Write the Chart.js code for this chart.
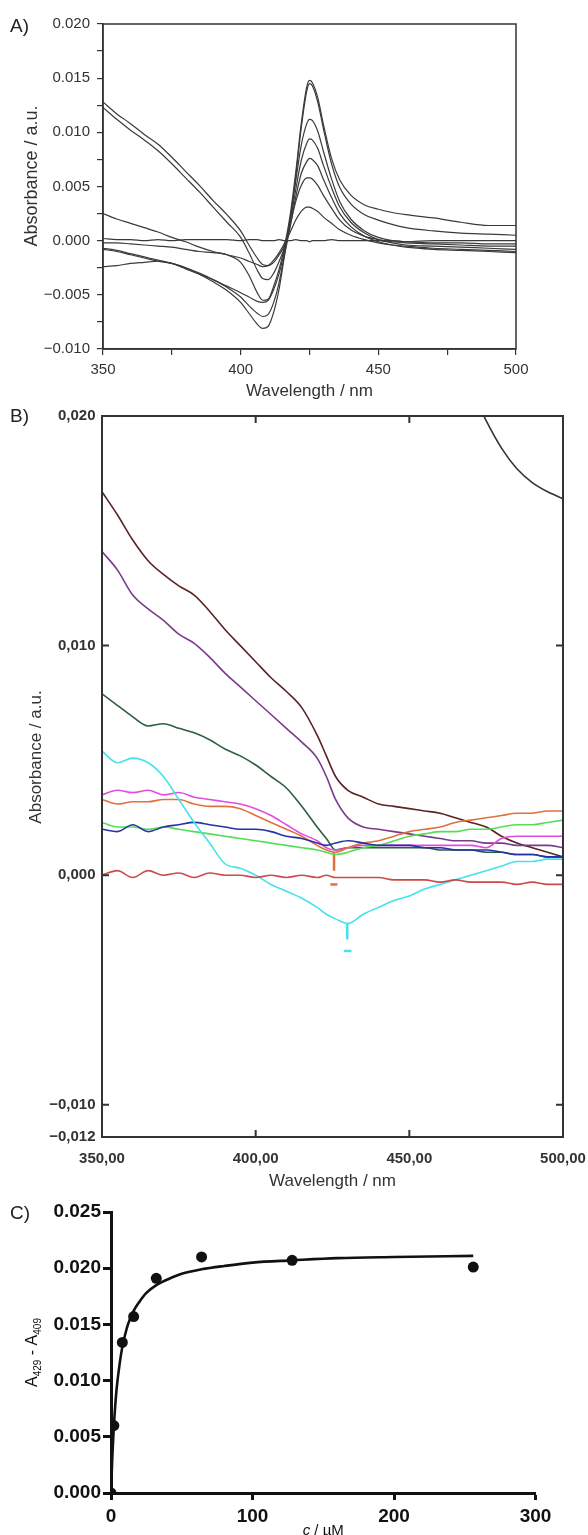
<!DOCTYPE html>
<html>
<head>
<meta charset="utf-8">
<script src="https://cdn.jsdelivr.net/npm/chart.js@4.4.1/dist/chart.umd.min.js"></script>
<style>
  body { margin: 0; background: #fff; }
  #page { position: relative; width: 588px; height: 1535px; overflow: hidden; font-family: "Liberation Sans", Arial, sans-serif; }
  canvas { position: absolute; left: 0; }
  .tag { position: absolute; left: 10px; font-size: 19px; line-height: 1; color: #222; }
</style>
</head>
<body>
<div id="page">
  <canvas id="chartA" width="588" height="410" style="top:0"></canvas>
  <canvas id="chartB" width="588" height="800" style="top:400px"></canvas>
  <canvas id="chartC" width="588" height="340" style="top:1195px"></canvas>
  <div class="tag" style="top:16px">A)</div>
  <div class="tag" style="top:406px">B)</div>
  <div class="tag" style="top:1203px">C)</div>
</div>
<script>
// ---- panel A: difference spectra (nm / a.u.) ----
const wlA = [350,355,360,365,370,375,380,385,390,395,400,403,406,408,410,412,414,416,418,420,422,424,425,426,428,430,433,436,440,445,450,455,460,470,480,490,500];
const aBase = [0.0002,0.0001,0.0001,0.0000,0.0001,0.0000,0.0001,0.0001,0.0001,0.0001,0.0000,0.0001,0.0001,0.0000,0.0000,0.0000,0.0001,0.0000,0.0000,0.0001,0.0000,0.0000,-0.0001,0.0000,0.0000,0.0000,0.0001,0.0000,0.0000,0.0000,0.0000,0.0000,-0.0001,0.0000,0.0000,0.0000,0.0000];
const aHi1 = [0.0128,0.0117,0.0108,0.0098,0.0089,0.0077,0.0064,0.0051,0.0037,0.0024,0.0009,-0.0004,-0.0016,-0.0022,-0.0023,-0.0020,-0.0013,-0.0003,0.0024,0.0063,0.0108,0.0142,0.0148,0.0146,0.0132,0.0108,0.0076,0.0056,0.0042,0.0033,0.0029,0.0026,0.0024,0.0021,0.0017,0.0014,0.0014];
const aHi2 = [0.0123,0.0112,0.0102,0.0093,0.0083,0.0071,0.0058,0.0045,0.0031,0.0017,0.0003,-0.0011,-0.0027,-0.0035,-0.0036,-0.0030,-0.0019,-0.0005,0.0020,0.0059,0.0104,0.0138,0.0145,0.0143,0.0128,0.0104,0.0071,0.0049,0.0034,0.0024,0.0019,0.0015,0.0012,0.0009,0.0007,0.0006,0.0005];
const aMid = [0.0025,0.0020,0.0016,0.0012,0.0008,0.0003,-0.0001,-0.0006,-0.0010,-0.0013,-0.0016,-0.0019,-0.0022,-0.0024,-0.0023,-0.0018,-0.0011,-0.0002,0.0008,0.0019,0.0027,0.0031,0.0031,0.0030,0.0027,0.0022,0.0016,0.0010,0.0005,0.0001,-0.0002,-0.0004,-0.0005,-0.0007,-0.0008,-0.0009,-0.0010];
const aLow = [-0.0002,-0.0002,-0.0003,-0.0004,-0.0005,-0.0006,-0.0008,-0.0010,-0.0011,-0.0013,-0.0020,-0.0032,-0.0048,-0.0055,-0.0054,-0.0042,-0.0026,-0.0006,0.0015,0.0036,0.0051,0.0058,0.0058,0.0057,0.0051,0.0042,0.0030,0.0019,0.0010,0.0004,0.0001,-0.0001,-0.0002,-0.0003,-0.0004,-0.0005,-0.0005];
const aB1 = [-0.0007,-0.0009,-0.0012,-0.0015,-0.0018,-0.0021,-0.0026,-0.0031,-0.0036,-0.0042,-0.0048,-0.0052,-0.0056,-0.0057,-0.0055,-0.0045,-0.0030,-0.0008,0.0020,0.0055,0.0088,0.0108,0.0112,0.0111,0.0101,0.0083,0.0057,0.0036,0.0020,0.0009,0.0003,0.0000,-0.0001,-0.0002,-0.0002,-0.0003,-0.0003];
const aB2 = [-0.0008,-0.0010,-0.0013,-0.0016,-0.0019,-0.0021,-0.0025,-0.0030,-0.0036,-0.0043,-0.0052,-0.0060,-0.0067,-0.0070,-0.0068,-0.0057,-0.0038,-0.0011,0.0017,0.0047,0.0074,0.0090,0.0094,0.0093,0.0085,0.0070,0.0049,0.0031,0.0017,0.0007,0.0001,-0.0002,-0.0004,-0.0005,-0.0006,-0.0007,-0.0008];
const aDeep = [-0.0024,-0.0023,-0.0021,-0.0020,-0.0019,-0.0021,-0.0025,-0.0031,-0.0038,-0.0046,-0.0057,-0.0067,-0.0077,-0.0081,-0.0079,-0.0066,-0.0044,-0.0013,0.0013,0.0040,0.0062,0.0073,0.0076,0.0075,0.0069,0.0057,0.0040,0.0025,0.0013,0.0004,-0.0001,-0.0004,-0.0006,-0.0008,-0.0009,-0.0010,-0.0011];

// ---- panel B: coloured spectra ----
const wlB = [350,355,360,365,370,375,380,385,390,395,400,405,410,415,420,423,426,430,435,440,445,450,455,460,465,470,475,480,485,490,495,500];
const bBrown = [0.0167,0.0157,0.0146,0.0137,0.0131,0.0126,0.0122,0.0115,0.0107,0.0100,0.0093,0.0086,0.0080,0.0073,0.0061,0.0052,0.0043,0.0037,0.0034,0.0031,0.0030,0.0029,0.0028,0.0027,0.0025,0.0023,0.0021,0.0017,0.0014,0.0012,0.0010,0.0008];
const bPurple = [0.0141,0.0133,0.0122,0.0116,0.0111,0.0105,0.0101,0.0095,0.0088,0.0082,0.0076,0.0070,0.0064,0.0058,0.0051,0.0043,0.0033,0.0025,0.0021,0.0020,0.0019,0.0018,0.0017,0.0016,0.0015,0.0015,0.0014,0.0014,0.0013,0.0013,0.0013,0.0012];
const bDkGreen = [0.0079,0.0074,0.0069,0.0065,0.0066,0.0064,0.0062,0.0059,0.0055,0.0052,0.0048,0.0043,0.0038,0.0030,0.0021,0.0016,0.0011,0.0012,0.0012,0.0012,0.0012,0.0012,0.0012,0.0011,0.0011,0.0011,0.0010,0.0010,0.0009,0.0009,0.0008,0.0008];
const bCyan = [0.0054,0.0049,0.0051,0.0049,0.0043,0.0033,0.0023,0.0014,0.0005,0.0003,0.0000,-0.0004,-0.0007,-0.0010,-0.0014,-0.0017,-0.0019,-0.0021,-0.0017,-0.0014,-0.0011,-0.0009,-0.0006,-0.0004,-0.0002,0.0000,0.0002,0.0004,0.0006,0.0006,0.0007,0.0007];
const bMagenta = [0.0035,0.0037,0.0036,0.0037,0.0035,0.0036,0.0034,0.0033,0.0032,0.0031,0.0029,0.0026,0.0022,0.0018,0.0015,0.0012,0.0011,0.0012,0.0013,0.0013,0.0013,0.0013,0.0013,0.0013,0.0013,0.0013,0.0012,0.0016,0.0017,0.0017,0.0017,0.0017];
const bOrange = [0.0033,0.0031,0.0032,0.0032,0.0033,0.0033,0.0031,0.0030,0.0030,0.0029,0.0026,0.0023,0.0020,0.0017,0.0013,0.0011,0.0010,0.0012,0.0014,0.0015,0.0017,0.0019,0.0020,0.0021,0.0023,0.0024,0.0025,0.0026,0.0027,0.0027,0.0028,0.0028];
const bGreen = [0.0023,0.0021,0.0021,0.0020,0.0021,0.0020,0.0019,0.0018,0.0017,0.0016,0.0015,0.0014,0.0013,0.0012,0.0011,0.0010,0.0009,0.0010,0.0012,0.0013,0.0015,0.0017,0.0018,0.0019,0.0019,0.0020,0.0020,0.0021,0.0022,0.0022,0.0023,0.0024];
const bBlue = [0.0020,0.0019,0.0022,0.0019,0.0021,0.0022,0.0023,0.0022,0.0021,0.0020,0.0020,0.0019,0.0017,0.0016,0.0014,0.0013,0.0014,0.0015,0.0014,0.0013,0.0013,0.0013,0.0012,0.0012,0.0011,0.0011,0.0011,0.0010,0.0009,0.0009,0.0008,0.0008];
const bRed = [0.0000,0.0002,-0.0001,0.0002,0.0000,0.0001,-0.0001,0.0001,0.0000,0.0000,-0.0001,0.0000,-0.0001,0.0000,-0.0001,0.0000,-0.0001,-0.0001,-0.0001,-0.0001,-0.0002,-0.0002,-0.0002,-0.0003,-0.0002,-0.0003,-0.0003,-0.0003,-0.0004,-0.0003,-0.0004,-0.0004];
const bBlackWl = [470,475,480,485,490,495,500];
const bBlack = [0.0212,0.0198,0.0186,0.0177,0.0171,0.0167,0.0164];
// cursor marks left on the orange and cyan traces
const bMarkOrangeWl = [425.5,425.5], bMarkOrange = [0.0010,0.0002];
const bDashOrangeWl = [424.3,426.6], bDashOrange = [-0.0004,-0.0004];
const bMarkCyanWl = [429.8,429.8], bMarkCyan = [-0.0021,-0.0028];
const bDashCyanWl = [428.7,431.2], bDashCyan = [-0.0033,-0.0033];
const bTickVals = [-0.0114,-0.010,0,0.010,0.020];
const bTickLabels = ['\u22120,012','\u22120,010','0,000','0,010','0,020'];
const bEdgeTicksX = [400,450];

// ---- panel C: titration ----
const concC = [0,2,8,16,32,64,128,256];
const diffC = [0.0000,0.0060,0.0134,0.0157,0.0191,0.0210,0.0207,0.0201];
const fitConc = [0,1,2,3,4,6,8,10,12,16,20,25,32,40,50,64,80,100,128,160,200,256];
const fitDiff = [0,0.0034,0.0059,0.0078,0.0093,0.0114,0.0130,0.0141,0.0150,0.0162,0.0170,0.0178,0.0185,0.0190,0.0195,0.0199,0.0202,0.0205,0.0207,0.0209,0.0210,0.0211];

Chart.defaults.font.family = '"Liberation Sans", Arial, sans-serif';
Chart.defaults.animation = false;

const toPoints = (xs, ys) => xs.map((x, i) => ({ x: x, y: ys[i] }));

function lineSet(xs, ys, color, width) {
    return {
        data: toPoints(xs, ys),
        borderColor: color,
        borderWidth: width,
        pointRadius: 0,
        fill: false,
        cubicInterpolationMode: 'monotone'
    };
}

function minus(text) {
    return text.replace('-', '\u2212');
}

// keep the plot edges where they are, whatever the end labels need
const noSidePad = s => { s.paddingLeft = 0; s.paddingRight = 0; };

// box round the plot area, optional inward ticks
const boxFrame = {
    id: 'boxFrame',
    afterDatasetsDraw(chart, args, opts) {
        const { ctx, chartArea: a, scales } = chart;
        ctx.save();
        ctx.strokeStyle = opts.color;
        ctx.lineWidth = opts.width;
        ctx.strokeRect(a.left, a.top, a.right - a.left, a.bottom - a.top);
        if (opts.innerY) {
            ctx.beginPath();
            opts.innerY.forEach(v => {
                const y = scales.y.getPixelForValue(v);
                ctx.moveTo(a.left, y); ctx.lineTo(a.left + opts.len, y);
                ctx.moveTo(a.right, y); ctx.lineTo(a.right - opts.len, y);
            });
            opts.innerX.forEach(v => {
                const x = scales.x.getPixelForValue(v);
                ctx.moveTo(x, a.top); ctx.lineTo(x, a.top + opts.len);
                ctx.moveTo(x, a.bottom); ctx.lineTo(x, a.bottom - opts.len);
            });
            ctx.stroke();
        }
        ctx.restore();
    }
};

// rotated y title, placed by hand (sits a little above the plot centre in the original)
const sideTitle = {
    id: 'sideTitle',
    afterDraw(chart, args, opts) {
        const ctx = chart.ctx;
        ctx.save();
        ctx.translate(opts.x, opts.y);
        ctx.rotate(-Math.PI / 2);
        ctx.font = opts.size + 'px "Liberation Sans", Arial, sans-serif';
        ctx.fillStyle = opts.color;
        ctx.textAlign = 'center';
        ctx.textBaseline = 'middle';
        ctx.fillText(opts.text, 0, 0);
        ctx.restore();
    }
};

// ---------------- chart A ----------------
const greyA = '#3a3a3a';
new Chart(document.getElementById('chartA'), {
    type: 'line',
    data: {
        datasets: [aBase, aHi1, aHi2, aMid, aLow, aB1, aB2, aDeep].map(arr => lineSet(wlA, arr, greyA, 1.2))
    },
    options: {
        responsive: false,
        layout: { padding: { top: 24, right: 72, left: 0, bottom: 8 } },
        plugins: {
            legend: { display: false },
            tooltip: { enabled: false },
            boxFrame: { color: '#333', width: 1.5 },
            sideTitle: { text: 'Absorbance / a.u.', x: 32, y: 176, size: 18, color: '#333' }
        },
        scales: {
            x: {
                type: 'linear', min: 350, max: 500,
                afterFit: s => { s.height = 53; noSidePad(s); },
                ticks: {
                    stepSize: 25, autoSkip: false, maxRotation: 0, padding: 6,
                    color: '#333', font: { size: 15 },
                    callback: v => (v % 50 === 0 ? String(v) : '')
                },
                grid: { drawOnChartArea: false, drawTicks: true, tickLength: 6, color: '#333', lineWidth: 1.2 },
                border: { color: '#333', width: 1.5 },
                title: { display: true, text: 'Wavelength / nm', color: '#333', font: { size: 17 }, padding: 0 }
            },
            y: {
                min: -0.010, max: 0.020,
                afterFit: s => { s.width = 103; },
                ticks: {
                    stepSize: 0.0025, autoSkip: false, padding: 7,
                    color: '#333', font: { size: 15 },
                    callback: v => {
                        const k = Math.round(v / 0.0025);
                        if (k % 2 !== 0) return '';
                        return minus((k * 0.0025).toFixed(3));
                    }
                },
                grid: { drawOnChartArea: false, drawTicks: true, tickLength: 6, color: '#333', lineWidth: 1.2 },
                border: { color: '#333', width: 1.5 }
            }
        }
    },
    plugins: [boxFrame, sideTitle]
});

// ---------------- chart B ----------------
const bSeries = [
    [wlB, bRed, '#cc4a4a'],
    [wlB, bCyan, '#45e2ee'],
    [wlB, bBlue, '#2233a6'],
    [wlB, bGreen, '#55dd55'],
    [wlB, bOrange, '#e2703c'],
    [wlB, bMagenta, '#e24ce4'],
    [wlB, bDkGreen, '#2f5e3a'],
    [wlB, bPurple, '#7b3a8c'],
    [wlB, bBrown, '#5a2424'],
    [bBlackWl, bBlack, '#333333']
];
const bMarks = [
    [bMarkOrangeWl, bMarkOrange, '#e2703c'],
    [bDashOrangeWl, bDashOrange, '#e2703c'],
    [bMarkCyanWl, bMarkCyan, '#45e2ee'],
    [bDashCyanWl, bDashCyan, '#45e2ee']
];

new Chart(document.getElementById('chartB'), {
    type: 'line',
    data: {
        datasets: bSeries.map(s => lineSet(s[0], s[1], s[2], 1.6))
            .concat(bMarks.map(s => Object.assign(lineSet(s[0], s[1], s[2], 2.5), { cubicInterpolationMode: 'default' })))
    },
    options: {
        responsive: false,
        layout: { padding: { top: 16, right: 25, left: 0, bottom: 8.8 } },
        plugins: {
            legend: { display: false },
            tooltip: { enabled: false },
            boxFrame: { color: '#333', width: 2, len: 7, innerY: bTickVals.slice(1), innerX: bEdgeTicksX },
            sideTitle: { text: 'Absorbance / a.u.', x: 36, y: 357, size: 17, color: '#333' }
        },
        scales: {
            x: {
                type: 'linear', min: 350, max: 500,
                afterFit: s => { s.height = 54.2; noSidePad(s); },
                ticks: {
                    stepSize: 50, autoSkip: false, maxRotation: 0, padding: 13,
                    color: '#333', font: { size: 15, weight: 'bold' },
                    callback: v => v.toFixed(2).replace('.', ',')
                },
                grid: { display: false, drawTicks: false },
                border: { color: '#333', width: 2 },
                title: { display: true, text: 'Wavelength / nm', color: '#333', font: { size: 17 }, padding: 0 }
            },
            y: {
                min: bTickVals[0], max: 0.020,
                afterFit: s => { s.width = 102; },
                afterBuildTicks: s => { s.ticks = bTickVals.map(v => ({ value: v })); },
                ticks: {
                    autoSkip: false, padding: 6.5,
                    color: '#333', font: { size: 15, weight: 'bold' },
                    callback: (v, i) => bTickLabels[i]
                },
                grid: { display: false, drawTicks: false },
                border: { color: '#333', width: 2 }
            }
        }
    },
    plugins: [boxFrame, sideTitle]
});

// ---------------- chart C ----------------
const cTitles = {
    id: 'cTitles',
    afterDraw(chart) {
        const { ctx, chartArea: a } = chart;
        ctx.save();
        ctx.fillStyle = '#111';
        ctx.textBaseline = 'alphabetic';
        // y title with subscripts
        const parts = [['A', 16, 0], ['429', 10, 4], [' - A', 16, 0], ['409', 10, 4]];
        let total = 0;
        parts.forEach(p => { ctx.font = p[1] + 'px "Liberation Sans", Arial'; total += ctx.measureText(p[0]).width; });
        ctx.translate(37, (a.top + a.bottom) / 2);
        ctx.rotate(-Math.PI / 2);
        let x = -total / 2;
        parts.forEach(p => {
            ctx.font = p[1] + 'px "Liberation Sans", Arial';
            ctx.fillText(p[0], x, p[2]);
            x += ctx.measureText(p[0]).width;
        });
        ctx.restore();
        // x title: italic c
        ctx.save();
        ctx.fillStyle = '#111';
        ctx.textBaseline = 'middle';
        ctx.font = 'italic 15px "Liberation Sans", Arial';
        const wc = ctx.measureText('c').width;
        ctx.font = '15px "Liberation Sans", Arial';
        const wr = ctx.measureText(' / \u00b5M').width;
        const x0 = (a.left + a.right) / 2 - (wc + wr) / 2;
        ctx.font = 'italic 15px "Liberation Sans", Arial';
        ctx.fillText('c', x0, 336);
        ctx.font = '15px "Liberation Sans", Arial';
        ctx.fillText(' / \u00b5M', x0 + wc, 336);
        ctx.restore();
    }
};

new Chart(document.getElementById('chartC'), {
    type: 'line',
    data: {
        datasets: [
            lineSet(fitConc, fitDiff, '#111', 2.6),
            {
                data: toPoints(concC, diffC),
                showLine: false,
                pointRadius: 5.5,
                pointBackgroundColor: '#111',
                pointBorderColor: '#111',
                pointBorderWidth: 0
            }
        ]
    },
    options: {
        responsive: false,
        layout: { padding: { top: 17, right: 52.5, left: 0, bottom: 0 } },
        plugins: { legend: { display: false }, tooltip: { enabled: false } },
        scales: {
            x: {
                type: 'linear', min: 0, max: 300,
                afterFit: s => { s.height = 42; noSidePad(s); },
                ticks: { stepSize: 100, maxRotation: 0, padding: 5.6, color: '#111', font: { size: 19, weight: 'bold' } },
                grid: { drawOnChartArea: false, drawTicks: true, tickLength: 7, tickWidth: 3, tickColor: '#111' },
                border: { color: '#111', width: 3 }
            },
            y: {
                min: 0, max: 0.025,
                afterFit: s => { s.width = 111; },
                ticks: {
                    stepSize: 0.005, padding: 2, color: '#111', font: { size: 19, weight: 'bold' },
                    callback: v => v.toFixed(3)
                },
                grid: { drawOnChartArea: false, drawTicks: true, tickLength: 8, tickWidth: 3, tickColor: '#111' },
                border: { color: '#111', width: 3 }
            }
        }
    },
    plugins: [cTitles]
});
</script>
</body>
</html>
